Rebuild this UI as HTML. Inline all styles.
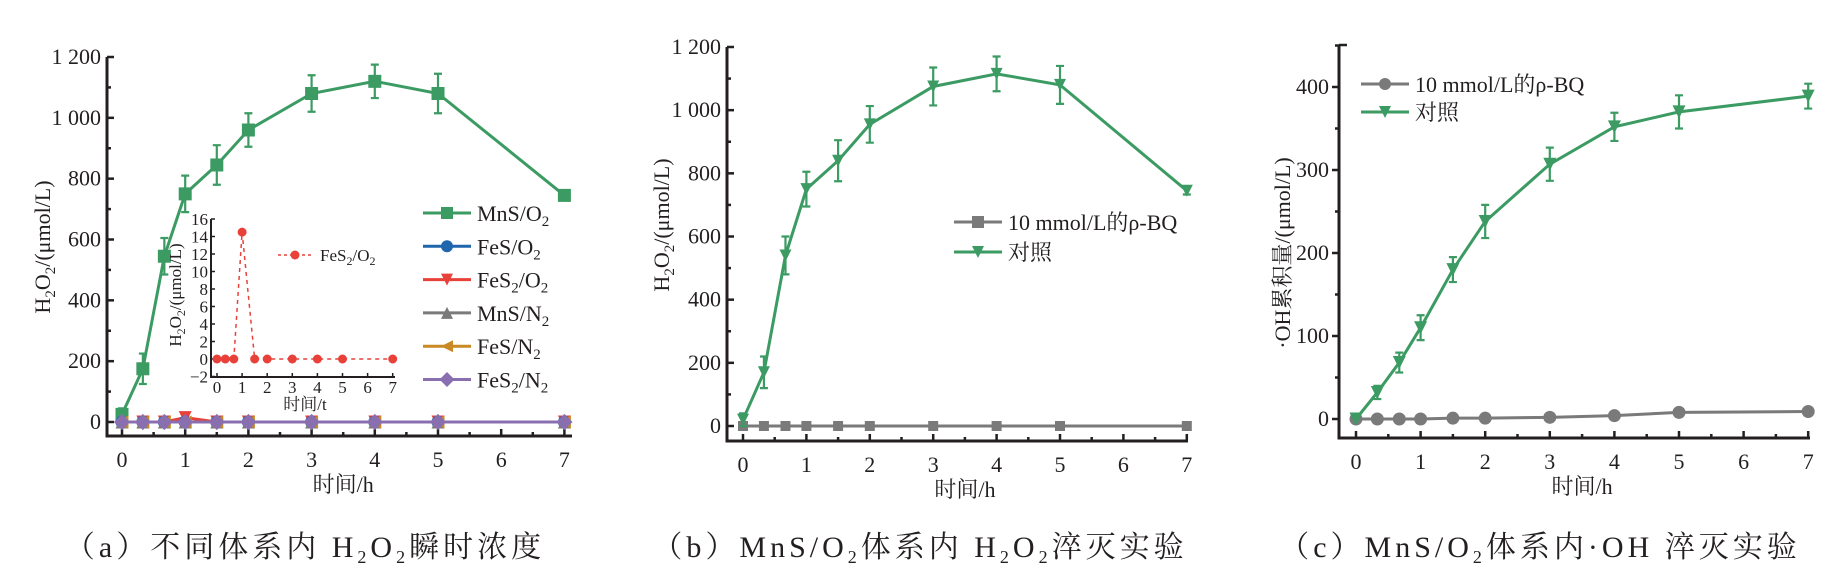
<!DOCTYPE html>
<html><head><meta charset="utf-8">
<style>
html,body{margin:0;padding:0;background:#fff;}
svg{display:block;}
text{font-family:"Liberation Serif","Noto Serif CJK SC",serif;fill:#231f20;}
</style></head>
<body>
<svg id="fig" width="1839" height="575" viewBox="0 0 1839 575" xmlns="http://www.w3.org/2000/svg">
<g id="pa"></g>
<g id="pb"></g>
<g id="pc"></g>
<text x="305" y="557" font-size="30" text-anchor="middle" letter-spacing="4">（a）不同体系内 H<tspan font-size="18" dy="6">2</tspan><tspan dy="-6">O</tspan><tspan font-size="18" dy="6">2</tspan><tspan dy="-6">瞬时浓度</tspan></text>
<text x="920" y="557" font-size="30" text-anchor="middle" letter-spacing="4">（b）MnS/O<tspan font-size="18" dy="6">2</tspan><tspan dy="-6">体系内 H</tspan><tspan font-size="18" dy="6">2</tspan><tspan dy="-6">O</tspan><tspan font-size="18" dy="6">2</tspan><tspan dy="-6">淬灭实验</tspan></text>
<text x="1540" y="557" font-size="30" text-anchor="middle" letter-spacing="4">（c）MnS/O<tspan font-size="18" dy="6">2</tspan><tspan dy="-6">体系内·OH 淬灭实验</tspan></text>
</svg>
<script>
// ---- data ----
const times = [0, 0.33, 0.67, 1, 1.5, 2, 3, 4, 5, 7];
const aMnSO2 = [25, 175, 545, 750, 845, 960, 1080, 1120, 1080, 745];
const aMnSO2Err = [20, 50, 60, 60, 65, 55, 60, 55, 65, 15];
const aFeSO2 = [0, 0, 0, 0, 0, 0, 0, 0, 0, 0];
const aFeS2O2 = [0, 0, 0, 14.5, 0, 0, 0, 0, 0, 0];
const aMnSN2 = [0, 0, 0, 0, 0, 0, 0, 0, 0, 0];
const aFeSN2 = [0, 0, 0, 0, 0, 0, 0, 0, 0, 0];
const aFeS2N2 = [0, 0, 0, 0, 0, 0, 0, 0, 0, 0];
const insetFeS2O2 = [0, 0, 0, 14.5, 0, 0, 0, 0, 0, 0];
const bBQ = [0, 0, 0, 0, 0, 0, 0, 0, 0, 0];
const bCtrl = [20, 170, 540, 750, 840, 955, 1075, 1115, 1080, 745];
const bCtrlErr = [20, 50, 60, 55, 65, 58, 60, 55, 60, 12];
const cBQ = [0, 0, 0, 0, 1, 1, 2, 4, 8, 9];
const cCtrl = [0, 32, 68, 110, 180, 238, 307, 352, 370, 389];
const cCtrlErr = [0, 8, 12, 15, 15, 20, 20, 17, 20, 15];
const xTicks = [0, 1, 2, 3, 4, 5, 6, 7];
const abYTicks = [0, 200, 400, 600, 800, 1000, 1200];
const abYLabels = ["0", "200", "400", "600", "800", "1 000", "1 200"];
const cYTicks = [0, 100, 200, 300, 400];
const insetYTicks = [-2, 0, 2, 4, 6, 8, 10, 12, 14, 16];

const NS = "http://www.w3.org/2000/svg";
function mk(parent, tag, attrs, txt) {
  const e = document.createElementNS(NS, tag);
  for (const k in attrs) e.setAttribute(k, attrs[k]);
  if (txt !== undefined) e.textContent = txt;
  parent.appendChild(e);
  return e;
}
function marker(g, shape, x, y, color, s) {
  let e;
  if (shape === "square") e = mk(g, "rect", {x: x - s/2, y: y - s/2, width: s, height: s, fill: color});
  else if (shape === "circle") e = mk(g, "circle", {cx: x, cy: y, r: s/2, fill: color});
  else if (shape === "down") e = mk(g, "polygon", {points: `${x-s/2},${y-s/2} ${x+s/2},${y-s/2} ${x},${y+s/2}`, fill: color});
  else if (shape === "up") e = mk(g, "polygon", {points: `${x-s/2},${y+s/2} ${x+s/2},${y+s/2} ${x},${y-s/2}`, fill: color});
  else if (shape === "left") e = mk(g, "polygon", {points: `${x+s/2},${y-s/2} ${x+s/2},${y+s/2} ${x-s/2},${y}`, fill: color});
  else if (shape === "diamond") e = mk(g, "polygon", {points: `${x},${y-s/1.6} ${x+s/1.6},${y} ${x},${y+s/1.6} ${x-s/1.6},${y}`, fill: color});
  
  
  return e;
}
function series(g, xs, ys, errs, X, Y, color, shape, size, name, dash) {
  const sg = mk(g, "g", {});
  
  
  const pts = xs.map((t, i) => `${X(t)},${Y(ys[i])}`).join(" ");
  const pl = mk(sg, "polyline", {points: pts, fill: "none", stroke: color, "stroke-width": dash ? 1.5 : 3, "stroke-dasharray": dash || "none"});
  
  
  if (errs) xs.forEach((t, i) => {
    if (!errs[i]) return;
    const x = X(t), y1 = Y(ys[i] + errs[i]), y2 = Y(ys[i] - errs[i]);
    const eb = mk(sg, "path", {d: `M${x},${y1}V${y2}M${x-4},${y1}H${x+4}M${x-4},${y2}H${x+4}`, stroke: color, "stroke-width": 2.2, fill: "none"});
    
    
  });
  xs.forEach((t, i) => marker(sg, shape, X(t), Y(ys[i]), color, size));
}
function axes(g, o) {
  const {x0, x1, yTop, xAxisY, X, Y, yTicks, yLabels, minorY, inward, ylabelX, ylabelY, ylabel, xlabelY, fs} = o;
  const ax = mk(g, "path", {d: `M${x0},${yTop}V${xAxisY}H${x1}`, stroke: "#231f20", "stroke-width": 3, fill: "none"});
  
  
  const dir = inward ? 1 : -1;
  yTicks.forEach((v, i) => {
    mk(g, "line", {x1: x0, x2: x0 + dir * 7, y1: Y(v), y2: Y(v), stroke: "#231f20", "stroke-width": 2.5});
    const t = mk(g, "text", {x: x0 - (inward ? 6 : 10), y: Y(v) + 7, "font-size": fs, "text-anchor": "end"}, yLabels[i]);
    
    
  });
  for (let i = 0; i < yTicks.length - 1; i++) {
    const m = (yTicks[i] + yTicks[i+1]) / 2;
    mk(g, "line", {x1: x0, x2: x0 + dir * 4, y1: Y(m), y2: Y(m), stroke: "#231f20", "stroke-width": 2.5});
  }
  if (minorY !== undefined) mk(g, "line", {x1: x0, x2: x0 + dir * 4, y1: Y(minorY), y2: Y(minorY), stroke: "#231f20", "stroke-width": 2.5});
  xTicks.forEach((v, i) => {
    mk(g, "line", {x1: X(v), x2: X(v), y1: xAxisY, y2: xAxisY - 7, stroke: "#231f20", "stroke-width": 2.5});
    if (i < xTicks.length - 1) mk(g, "line", {x1: X(v + 0.5), x2: X(v + 0.5), y1: xAxisY, y2: xAxisY - 4, stroke: "#231f20", "stroke-width": 2.5});
    const t = mk(g, "text", {x: X(v), y: xAxisY + 31, "font-size": fs, "text-anchor": "middle"}, String(v));
    
    
  });
  const xl = mk(g, "text", {x: (X(0) + X(7)) / 2, y: xlabelY, "font-size": 22, "text-anchor": "middle"}, "时间/h");
  
  
  const yl = mk(g, "text", {x: 0, y: 0, "font-size": 22, "text-anchor": "middle", transform: `translate(${ylabelX},${ylabelY}) rotate(-90)`});
  yl.innerHTML = ylabel;
  
  
}
function legend(g, items, x, y, dy, fs) {
  items.forEach((it, i) => {
    const lg = mk(g, "g", {});
    
    
    const yy = y + i * dy;
    mk(lg, "line", {x1: x, x2: x + 48, y1: yy, y2: yy, stroke: it.c, "stroke-width": 3});
    marker(lg, it.s, x + 24, yy, it.c, 12);
    const t = mk(lg, "text", {x: x + 54, y: yy + 8, "font-size": fs});
    t.innerHTML = it.t;
  });
}
const H2O2 = 'H<tspan font-size="15" dy="5">2</tspan><tspan dy="-5">O</tspan><tspan font-size="15" dy="5">2</tspan><tspan dy="-5">/(μmol/L)</tspan>';
const sub = (a, b, c) => `${a}<tspan font-size="15" dy="5">${b}</tspan><tspan dy="-5">${c}</tspan>`;

// ---- panel a ----
(function(){
  const g = document.getElementById("pa");
  const X = t => 122 + t * 63.2;
  const Y = v => 422 - v * (365 / 1200);
  axes(g, {x0: 107, x1: 572, yTop: 57, xAxisY: 436, X, Y, yTicks: abYTicks, yLabels: abYLabels, inward: true, ylabelX: 50, ylabelY: 247, ylabel: H2O2, xlabelY: 492, fs: 22});
  series(g, times, aFeS2O2, null, X, Y, "#e8413a", "down", 13, "series-fes2-o2");
  series(g, times, aMnSO2, aMnSO2Err, X, Y, "#3b9b63", "square", 13, "series-mns-o2");
  series(g, times, aFeSO2, null, X, Y, "#1f66ad", "circle", 13, "series-fes-o2");
  series(g, times, aMnSN2, null, X, Y, "#7a7a7a", "up", 13, "series-mns-n2");
  series(g, times, aFeSN2, null, X, Y, "#c98a23", "left", 13, "series-fes-n2");
  series(g, times, aFeS2N2, null, X, Y, "#8a6fb0", "diamond", 13, "series-fes2-n2");
  const lg = mk(g, "g", {});  
  legend(lg, [
    {c: "#3b9b63", s: "square", t: sub("MnS/O", "2", "")},
    {c: "#1f66ad", s: "circle", t: sub("FeS/O", "2", "")},
    {c: "#e8413a", s: "down", t: sub("FeS", "2", "/O") + '<tspan font-size="15" dy="5">2</tspan>'},
    {c: "#7a7a7a", s: "up", t: sub("MnS/N", "2", "")},
    {c: "#c98a23", s: "left", t: sub("FeS/N", "2", "")},
    {c: "#8a6fb0", s: "diamond", t: sub("FeS", "2", "/N") + '<tspan font-size="15" dy="5">2</tspan>'}
  ], 423, 213, 33.3, 22);
  // inset
  const ig = mk(g, "g", {});  
  const IX = t => 217 + t * 25.1;
  const IY = v => 359 - v * 8.75;
  mk(ig, "path", {d: `M211,${IY(16)}V377H395`, stroke: "#231f20", "stroke-width": 2, fill: "none"});
  insetYTicks.forEach(v => {
    mk(ig, "line", {x1: 211, x2: 215, y1: IY(v), y2: IY(v), stroke: "#231f20", "stroke-width": 1.5});
    const t = mk(ig, "text", {x: 208, y: IY(v) + 6, "font-size": 17, "text-anchor": "end"}, v < 0 ? "−" + (-v) : String(v));
     
  });
  xTicks.forEach(v => {
    mk(ig, "line", {x1: IX(v), x2: IX(v), y1: 377, y2: 373, stroke: "#231f20", "stroke-width": 1.5});
    const t = mk(ig, "text", {x: IX(v), y: 393, "font-size": 17, "text-anchor": "middle"}, String(v));
     
  });
  const ixl = mk(ig, "text", {x: 305, y: 410, "font-size": 17, "text-anchor": "middle"}, "时间/t");
   
  const iyl = mk(ig, "text", {x: 0, y: 0, "font-size": 17, "text-anchor": "middle", transform: "translate(181,295) rotate(-90)"});
  iyl.innerHTML = 'H<tspan font-size="12" dy="4">2</tspan><tspan dy="-4">O</tspan><tspan font-size="12" dy="4">2</tspan><tspan dy="-4">/(μmol/L)</tspan>';
   
  series(ig, times, insetFeS2O2, null, IX, IY, "#e8413a", "circle", 9, "inset-series-fes2-o2", "4,4");
  mk(ig, "line", {x1: 278, x2: 312, y1: 255, y2: 255, stroke: "#e8413a", "stroke-width": 1.5, "stroke-dasharray": "3,3"});
  marker(ig, "circle", 295, 255, "#e8413a", 9);
  const ilt = mk(ig, "text", {x: 320, y: 261, "font-size": 17});
  ilt.innerHTML = 'FeS<tspan font-size="12" dy="4">2</tspan><tspan dy="-4">/O</tspan><tspan font-size="12" dy="4">2</tspan>';
   
})();

// ---- panel b ----
(function(){
  const g = document.getElementById("pb");
  const X = t => 743 + t * 63.4;
  const Y = v => 426 - v * (379 / 1200);
  axes(g, {x0: 727, x1: 1188, yTop: 47, xAxisY: 441, X, Y, yTicks: abYTicks, yLabels: abYLabels, inward: true, ylabelX: 669, ylabelY: 225, ylabel: H2O2, xlabelY: 497, fs: 22});
  series(g, times, bBQ, null, X, Y, "#7a7a7a", "square", 10, "series-bq");
  series(g, times, bCtrl, bCtrlErr, X, Y, "#3b9b63", "down", 12, "series-control");
  const lg = mk(g, "g", {});  
  legend(lg, [
    {c: "#7a7a7a", s: "square", t: "10 mmol/L的ρ-BQ"},
    {c: "#3b9b63", s: "down", t: "对照"}
  ], 954, 222, 30, 22);
})();

// ---- panel c ----
(function(){
  const g = document.getElementById("pc");
  const X = t => 1356 + t * 64.6;
  const Y = v => 419 - v * (332 / 400);
  axes(g, {x0: 1339, x1: 1810, yTop: 45, xAxisY: 438, X, Y, yTicks: cYTicks, yLabels: cYTicks.map(String), minorY: 450, inward: false, ylabelX: 1290, ylabelY: 253, ylabel: '·OH累积量/(μmol/L)', xlabelY: 494, fs: 22});
  mk(g, "line", {x1: 1339, x2: 1347, y1: 45, y2: 45, stroke: "#231f20", "stroke-width": 2.5});
  series(g, times, cBQ, null, X, Y, "#7a7a7a", "circle", 13, "series-bq");
  series(g, times, cCtrl, cCtrlErr, X, Y, "#3b9b63", "down", 13, "series-control");
  const lg = mk(g, "g", {});  
  legend(lg, [
    {c: "#7a7a7a", s: "circle", t: "10 mmol/L的ρ-BQ"},
    {c: "#3b9b63", s: "down", t: "对照"}
  ], 1361, 84, 28, 22);
})();
</script>
</body></html>
